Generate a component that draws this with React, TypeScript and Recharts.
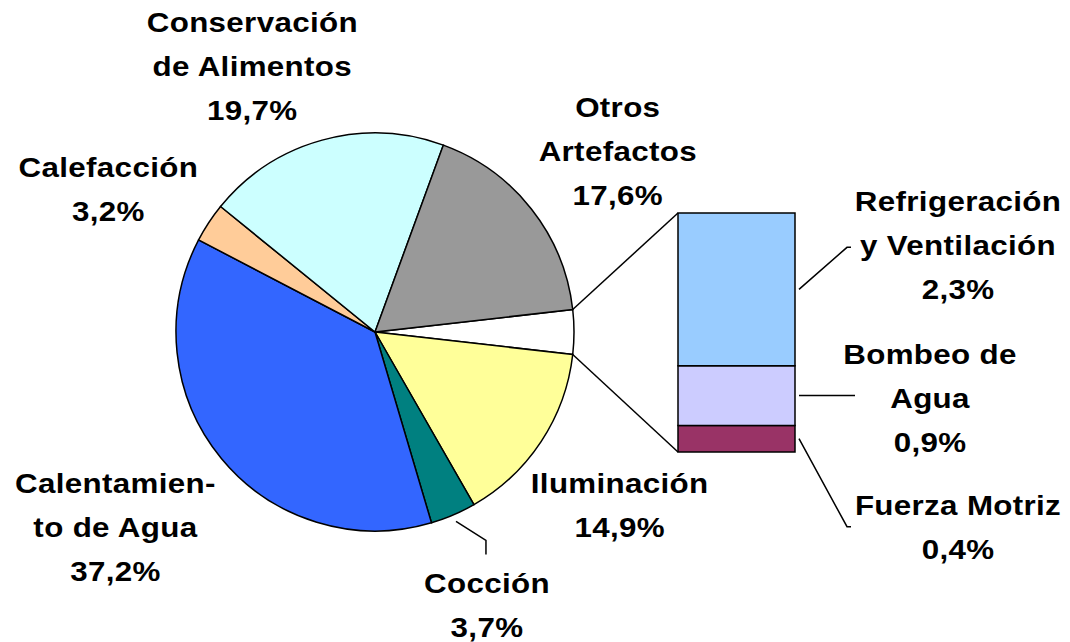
import React from "react"
import { PieChart, Pie, Cell, BarChart, Bar, XAxis, YAxis } from "recharts"

// Pie slices (clockwise from the split-off slice)
const pieNames = ["Iluminación", "Cocción", "Calentamiento de Agua", "Calefacción", "Conservación de Alimentos", "Otros Artefactos"]
const pieValues = [14.9, 3.7, 37.2, 3.2, 19.7, 17.6]
const pieLabelLines = [["Iluminación"], ["Cocción"], ["Calentamien-", "to de Agua"], ["Calefacción"], ["Conservación", "de Alimentos"], ["Otros", "Artefactos"]]
const pieColors = ["#FFFF99", "#008080", "#3366FF", "#FFCC99", "#CCFFFF", "#999999"]

// Breakdown shown in the stacked bar
const barNames = ["Refrigeración y Ventilación", "Bombeo de Agua", "Fuerza Motriz"]
const barValues = [2.3, 0.9, 0.4]
const barLabelLines = [["Refrigeración", "y Ventilación"], ["Bombeo de", "Agua"], ["Fuerza Motriz"]]
const barColors = ["#99CCFF", "#CCCCFF", "#993366"]

const W = 1070
const H = 642
const PIE_CX = 375
const PIE_CY = 332
const PIE_R = 199
const BAR_LEFT = 678
const BAR_RIGHT = 795
const BAR_TOP = 213
const BAR_BOTTOM = 452
const LABEL_R = 300
const LINE_H = 44
const FONT = "'Liberation Sans', Arial, Helvetica, sans-serif"

// label nudges from the radial anchor (layout only)
const pieLabelNudge: Record<string, [number, number]> = {
  "Iluminación": [-6, 8],
  "Cocción": [-6, -3],
  "Calentamiento de Agua": [-28, 4],
  "Calefacción": [-16, 22],
  "Conservación de Alimentos": [-43, 23],
  "Otros Artefactos": [7, 5],
}
// leader end and text centre, relative to the segment's right-middle point
const barLabelLayout: Record<string, { end: [number, number]; text: [number, number] }> = {
  "Refrigeración y Ventilación": { end: [48, -42], text: [159, -44] },
  "Bombeo de Agua": { end: [52, 0], text: [131, 2] },
  "Fuerza Motriz": { end: [48, 88], text: [159, 88] },
}

const otherTotal = barValues.reduce((a, b) => a + b, 0)
const grandTotal = pieValues.reduce((a, b) => a + b, 0) + otherTotal
const halfOther = (otherTotal / grandTotal) * 180

const pieData = [
  { name: "Otros", value: otherTotal, color: "#FFFFFF" },
  ...pieNames.map((n, i) => ({ name: n, value: pieValues[i], color: pieColors[i] })),
]
const barRow: Record<string, number | string> = { name: "Otros" }
barNames.forEach((n, i) => (barRow[n] = barValues[i]))

const fmt = (v: number) => `${v.toFixed(1).replace(".", ",")}%`
const RAD = Math.PI / 180

function TextBlock({ x, y, lines }: { x: number; y: number; lines: string[] }) {
  const top = y - ((lines.length - 1) * LINE_H) / 2
  return (
    <g>
      {lines.map((l, i) => (
        <g key={i} transform={`translate(${x},${top + i * LINE_H + 10}) scale(1.16,1)`}>
          <text
            x={0}
            y={0}
            textAnchor="middle"
            fontFamily={FONT}
            fontWeight="bold"
            fontSize={27}
            letterSpacing={0.3}
            fill="#000"
          >
            {l}
          </text>
        </g>
      ))}
    </g>
  )
}

const renderPieLabel = (props: any) => {
  const { cx, cy, midAngle, outerRadius, index } = props
  if (index === 0) return null
  const i = index - 1
  const name = pieNames[i]
  const [nx, ny] = pieLabelNudge[name]
  const x = cx + LABEL_R * Math.cos(-midAngle * RAD) + nx
  const y = cy + LABEL_R * Math.sin(-midAngle * RAD) + ny
  const lines = [...pieLabelLines[i], fmt(pieValues[i])]
  let leader = null
  if (name === "Cocción") {
    const sx = cx + (outerRadius + 7) * Math.cos(-midAngle * RAD)
    const sy = cy + (outerRadius + 7) * Math.sin(-midAngle * RAD)
    leader = (
      <polyline
        points={`${sx},${sy} ${x - 1},${sy + 19} ${x - 1},${sy + 33}`}
        fill="none"
        stroke="#000"
        strokeWidth={1.5}
      />
    )
  }
  return (
    <g key={`pl-${index}`}>
      {leader}
      <TextBlock x={x} y={y} lines={lines} />
    </g>
  )
}

const makeBarLabel = (i: number) => (props: any) => {
  const { x, y, width, height } = props
  const mx = Number(x) + Number(width) + 4
  const my = Number(y) + Number(height) / 2
  const lay = barLabelLayout[barNames[i]]
  const ex = mx + lay.end[0]
  const ey = my + lay.end[1]
  return (
    <g>
      <polyline points={`${mx},${my} ${ex},${ey} ${ex + 4},${ey}`} fill="none" stroke="#000" strokeWidth={1.5} />
      <TextBlock x={mx + lay.text[0]} y={my + lay.text[1]} lines={[...barLabelLines[i], fmt(barValues[i])]} />
    </g>
  )
}

export default function App() {
  const a = halfOther * RAD
  const topPt = [PIE_CX + PIE_R * Math.cos(a), PIE_CY - PIE_R * Math.sin(a)]
  const botPt = [PIE_CX + PIE_R * Math.cos(a), PIE_CY + PIE_R * Math.sin(a)]
  // bottom stack first
  const order = [2, 1, 0]
  return (
    <div style={{ position: "absolute", left: 0, top: 0, width: W, height: H, background: "#fff" }}>
      <div style={{ position: "absolute", left: 0, top: 0 }}>
        <PieChart width={W} height={H} margin={{ top: 0, right: 0, bottom: 0, left: 0 }}>
          <Pie
            data={pieData}
            dataKey="value"
            cx={PIE_CX}
            cy={PIE_CY}
            outerRadius={PIE_R}
            startAngle={halfOther}
            endAngle={halfOther - 360}
            stroke="#000"
            strokeWidth={1.5}
            label={renderPieLabel}
            labelLine={false}
            isAnimationActive={false}
          >
            {pieData.map((d, i) => (
              <Cell key={i} fill={d.color} />
            ))}
          </Pie>
        </PieChart>
      </div>
      <div style={{ position: "absolute", left: 0, top: 0 }}>
        <BarChart
          width={W}
          height={H}
          data={[barRow]}
          margin={{ top: BAR_TOP, bottom: H - BAR_BOTTOM, left: BAR_LEFT, right: W - BAR_RIGHT }}
          barCategoryGap={0}
          barGap={0}
        >
          <XAxis dataKey="name" hide />
          <YAxis hide domain={[0, otherTotal]} />
          {order.map((i) => (
            <Bar
              key={barNames[i]}
              dataKey={barNames[i]}
              stackId="a"
              fill={barColors[i]}
              stroke="#000"
              strokeWidth={1.5}
              label={makeBarLabel(i)}
              isAnimationActive={false}
            />
          ))}
        </BarChart>
      </div>
      <svg width={W} height={H} style={{ position: "absolute", left: 0, top: 0, pointerEvents: "none" }}>
        <line x1={topPt[0]} y1={topPt[1]} x2={BAR_LEFT} y2={BAR_TOP} stroke="#000" strokeWidth={1.5} />
        <line x1={botPt[0]} y1={botPt[1]} x2={BAR_LEFT} y2={BAR_BOTTOM} stroke="#000" strokeWidth={1.5} />
      </svg>
    </div>
  )
}
